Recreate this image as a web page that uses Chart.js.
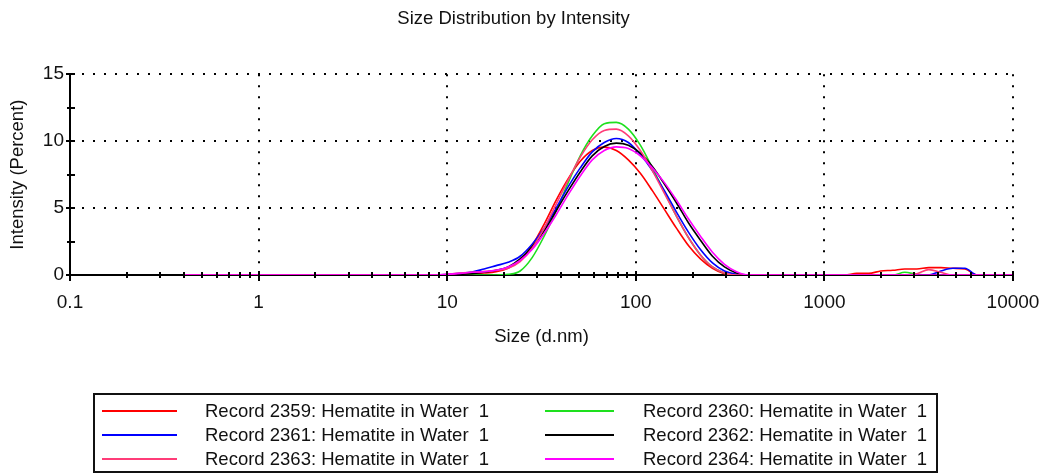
<!DOCTYPE html>
<html>
<head>
<meta charset="utf-8">
<script src="https://cdn.jsdelivr.net/npm/chart.js@4.4.0/dist/chart.umd.min.js"></script>
<style>
  body { margin: 0; background: #fff; font-family: 'Liberation Sans', Arial, sans-serif; }
  #wrap { position: relative; width: 1041px; height: 475px; }
  #legend { position: absolute; left: 93px; top: 393px; width: 845px; height: 80px; border: 2px solid #111; box-sizing: border-box; }
  .lg-line { position: absolute; height: 2px; }
  .lg-text { position: absolute; font-size: 18.5px; line-height: 22px; color: #111; white-space: pre; }
</style>
</head>
<body>
<div id="wrap">
  <canvas id="sizeChart" width="1041" height="475"></canvas>
  <div id="legend"></div>
</div>
<script>
// ── DATA ──
const sizes = [
  0.4, 0.4632, 0.5365, 0.6213, 0.7195, 0.8332, 0.9649, 1.117, 1.294, 1.499,
  1.736, 2.010, 2.328, 2.696, 3.122, 3.615, 4.187, 4.849, 5.615, 6.503,
  7.531, 8.721, 10.10, 11.70, 13.54, 15.69, 18.17, 21.04, 24.36, 28.21,
  32.67, 37.84, 43.82, 50.75, 58.77, 68.06, 78.82, 91.28, 105.7, 122.4,
  141.8, 164.2, 190.1, 220.2, 255.0, 295.3, 342.0, 396.1, 458.7, 531.2,
  615.1, 712.4, 825.0, 955.4, 1106, 1281, 1484, 1718, 1990, 2305,
  2669, 3091, 3580, 4145, 4801, 5560, 6439, 7456, 8635, 10000
];
const sizeTicks = [0.1, 1, 10, 100, 1000, 10000];
const intensityTicks = [0, 5, 10, 15];

const records = [
  'Record 2359: Hematite in Water  1',
  'Record 2360: Hematite in Water  1',
  'Record 2361: Hematite in Water  1',
  'Record 2362: Hematite in Water  1',
  'Record 2363: Hematite in Water  1',
  'Record 2364: Hematite in Water  1'
];
const colors = ['#ff0000', '#1ee01e', '#0000ff', '#000000', '#ff3c78', '#ff00ff'];

const rec2359 = [
  0,0,0,0,0,0,0,0,0,0,0,
  0,0,0,0,0,0,0,0,0,0,0,
  0.02,0.05,0.1,0.15,0.25,0.5,1.1,2.2,3.8,5.6,7.2,8.5,9.3,
  9.55,9.3,8.6,7.6,6.3,4.9,3.5,2.2,1.2,0.5,0.1,0,0,
  0,0,0,0,0,0,0,
  0,0.12,0.12,0.3,0.35,0.45,0.45,0.55,0.55,0.5,0.45,0,0,0,0
];
const rec2360 = [
  0,0,0,0,0,0,0,0,0,0,0,
  0,0,0,0,0,0,0,0,0,0,0,
  0,0,0,0,0,0.05,0.3,1.3,2.9,4.8,6.9,8.9,10.4,
  11.3,11.4,10.9,9.7,8.0,6.2,4.4,2.8,1.5,0.6,0.15,0,0,
  0,0,0,0,0,0,0,
  0,0,0,0,0,0.2,0.05,0,0,0,0,0,0,0,0
];
const rec2361 = [
  0,0,0,0,0,0,0,0,0,0,0,
  0,0,0,0,0,0,0,0,0,0,0,
  0.05,0.12,0.22,0.45,0.7,0.95,1.4,2.3,3.5,5.0,6.6,8.0,9.2,
  9.9,10.2,9.9,9.0,7.8,6.3,4.7,3.2,1.9,0.9,0.3,0.05,0,
  0,0,0,0,0,0,0,
  0,0,0,0,0,0,0,0,0.3,0.5,0.5,0,0,0,0
];
const rec2362 = [
  0,0,0,0,0,0,0,0,0,0,0,
  0,0,0,0,0,0,0,0,0,0,0,
  0.02,0.05,0.1,0.2,0.35,0.6,1.2,2.1,3.3,4.8,6.3,7.7,8.9,
  9.6,9.85,9.7,9.1,8.1,6.8,5.4,3.9,2.6,1.4,0.6,0.15,0,
  0,0,0,0,0,0,0,
  0,0,0,0,0,0,0,0,0,0,0,0,0,0,0
];
const rec2363 = [
  0,0,0,0,0,0,0,0,0,0,0,
  0,0,0,0,0,0,0,0,0,0,0,
  0.05,0.15,0.2,0.25,0.35,0.5,1.0,2.0,3.5,5.3,7.1,8.8,10.1,
  10.8,10.9,10.4,9.3,7.8,6.1,4.4,2.8,1.5,0.6,0.15,0,0,
  0,0,0,0,0,0,0,
  0,0,0,0,0,0,0.1,0.4,0.2,0,0,0,0,0,0
];
const rec2364 = [
  0,0,0,0,0,0,0,0,0,0,0,
  0,0,0,0,0,0,0,0,0,0,0,
  0.05,0.12,0.2,0.25,0.35,0.6,1.1,1.9,3.1,4.5,6.0,7.4,8.6,
  9.3,9.57,9.45,8.9,8.0,6.9,5.6,4.2,2.9,1.7,0.8,0.25,0,
  0,0,0,0,0,0,0,
  0,0,0,0,0,0,0,0,0,0,0,0,0,0,0
];
const series = [rec2359, rec2360, rec2361, rec2362, rec2363, rec2364];

// ── LEGEND (html box, 2 columns) ──
const legend = document.getElementById('legend');
const colLine = [7, 450], colText = [110, 548], rowY = [16, 40, 64];
records.forEach((name, i) => {
  const c = i % 2, r = Math.floor(i / 2);
  const ln = document.createElement('div');
  ln.className = 'lg-line';
  ln.style.cssText = `left:${colLine[c]}px;top:${rowY[r] - 1}px;width:${c ? 69 : 75}px;background:${colors[i]}`;
  const tx = document.createElement('div');
  tx.className = 'lg-text';
  tx.style.cssText = `left:${colText[c]}px;top:${rowY[r] - 11}px`;
  tx.textContent = name;
  legend.appendChild(ln);
  legend.appendChild(tx);
});

// ── small tick marks on both axes ──
const tickMarks = {
  id: 'tickMarks',
  afterDatasetsDraw(chart) {
    const { ctx, scales: { x, y } } = chart;
    const base = y.bottom;
    ctx.save();
    ctx.fillStyle = '#000';
    for (let i = 0; i < sizeTicks.length - 1; i++) {
      for (let m = 2; m < 10; m++) {
        const px = Math.round(x.getPixelForValue(sizeTicks[i] * m));
        ctx.fillRect(px - 1, base - 3, 2, 6);
      }
    }
    sizeTicks.forEach(v => {
      const px = Math.round(x.getPixelForValue(v));
      ctx.fillRect(px - 1, base - 4, 2, 10);
    });
    for (let i = 0; i < intensityTicks.length; i++) {
      const py = Math.round(y.getPixelForValue(intensityTicks[i]));
      ctx.fillRect(x.left - 4, py - 1, 9, 2);
      if (i < intensityTicks.length - 1) {
        const mid = Math.round(y.getPixelForValue((intensityTicks[i] + intensityTicks[i + 1]) / 2));
        ctx.fillRect(x.left - 3, mid - 1, 8, 2);
      }
    }
    ctx.restore();
  }
};

// ── CHART ──
Chart.defaults.font.family = "'Liberation Sans', Arial, sans-serif";
Chart.defaults.color = '#111';

const font = { size: 19 };
new Chart(document.getElementById('sizeChart'), {
  type: 'line',
  data: {
    datasets: series.map((vals, i) => ({
      label: records[i],
      data: vals.map((v, k) => ({ x: sizes[k], y: v })),
      borderColor: colors[i],
      borderWidth: 1.6,
      pointRadius: 0,
      tension: 0.4,
      cubicInterpolationMode: 'monotone',
      fill: false,
      order: series.length - 1 - i
    }))
  },
  options: {
    responsive: false,
    animation: false,
    layout: { padding: { left: 0, right: 14, top: 0, bottom: 120 } },
    plugins: {
      legend: { display: false },
      tooltip: { enabled: false },
      title: {
        display: true,
        text: 'Size Distribution by Intensity',
        color: '#111',
        font: { size: 18.5, weight: 'normal' },
        padding: { top: 8, bottom: 44 }
      }
    },
    scales: {
      x: {
        type: 'logarithmic',
        min: 0.1, max: 10000,
        afterBuildTicks: s => { s.ticks = sizeTicks.map(v => ({ value: v, major: true })); },
        afterFit: s => { s.height = 80; s.paddingLeft = 0; s.paddingRight = 28; },
        ticks: { font, color: '#111', padding: 16, maxRotation: 0, autoSkip: false, callback: v => String(v) },
        grid: { color: '#000', lineWidth: 2, drawTicks: false },
        border: { display: true, color: '#000', width: 2, dash: [2, 9] },
        title: { display: true, text: 'Size (d.nm)', color: '#111', font: { size: 18.5 }, padding: { top: 0, bottom: 7 } }
      },
      y: {
        min: 0, max: 15,
        afterBuildTicks: s => { s.ticks = intensityTicks.map(v => ({ value: v })); },
        afterFit: s => { s.width = 70; },
        ticks: { font, color: '#111', padding: 6 },
        grid: { color: '#000', lineWidth: 2, drawTicks: false },
        border: { display: true, color: '#000', width: 2, dash: [2, 9] },
        title: { display: true, text: 'Intensity (Percent)', color: '#111', font: { size: 18.5 }, padding: { top: 7, bottom: 0 } }
      }
    }
  },
  plugins: [tickMarks]
});
</script>
</body>
</html>
